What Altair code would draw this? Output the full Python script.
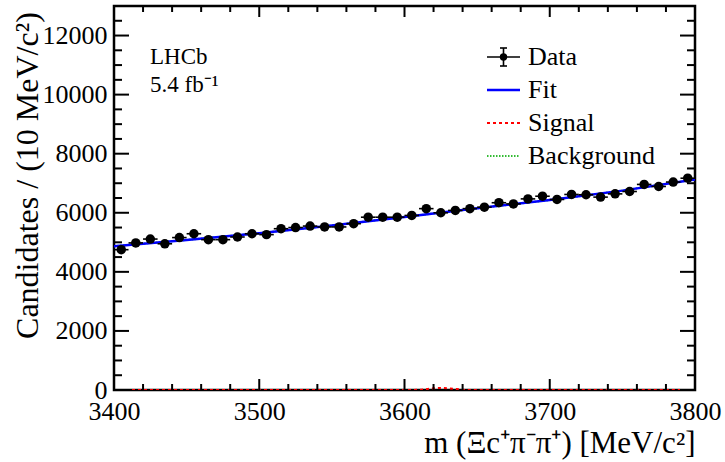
import altair as alt
import pandas as pd

# ---------------- data ----------------
mass = [3405, 3415, 3425, 3435, 3445, 3455, 3465, 3475, 3485, 3495,
        3505, 3515, 3525, 3535, 3545, 3555, 3565, 3575, 3585, 3595,
        3605, 3615, 3625, 3635, 3645, 3655, 3665, 3675, 3685, 3695,
        3705, 3715, 3725, 3735, 3745, 3755, 3765, 3775, 3785, 3795]
counts = [4750, 4980, 5110, 4950, 5160, 5290, 5090, 5090, 5180, 5290,
          5260, 5460, 5500, 5550, 5520, 5520, 5630, 5850, 5850, 5850,
          5910, 6140, 6000, 6080, 6140, 6190, 6340, 6300, 6470, 6560,
          6450, 6620, 6610, 6530, 6640, 6720, 6960, 6890, 7040, 7170]
errors = [69, 71, 71, 70, 72, 73, 71, 71, 72, 73,
          73, 74, 74, 74, 74, 74, 75, 76, 76, 76,
          77, 78, 77, 78, 78, 79, 80, 79, 80, 81,
          80, 81, 81, 81, 81, 82, 83, 83, 84, 85]
bin_half = 5

fit_mass = [3400, 3450, 3500, 3550, 3600, 3650, 3700, 3750, 3800]
fit_vals = [4870, 5080, 5310, 5570, 5860, 6150, 6430, 6750, 7130]
bkg_vals = [4870, 5080, 5310, 5570, 5860, 6150, 6430, 6750, 7130]

sig_mass = [3400, 3605, 3612, 3618, 3624, 3630, 3636, 3642, 3800]
sig_vals = [0, 0, 15, 45, 70, 60, 30, 0, 0]

x_major = [3400, 3500, 3600, 3700, 3800]
x_minor = [v for v in range(3420, 3800, 20) if v % 100 != 0]
y_major = [0, 2000, 4000, 6000, 8000, 10000, 12000]
y_minor = [v for v in range(500, 13000, 500) if v % 2000 != 0]

legend_labels = ["Data", "Fit", "Signal", "Background"]

# ---------------- layout constants ----------------
W, H = 581, 384
FONT = "Liberation Serif"
X_TITLE = "m (Ξc⁺π⁻π⁺) [MeV/c²]"
Y_TITLE = "Candidates / (10 MeV/c²)"

df_data = pd.DataFrame({"m": mass, "n": counts, "e": errors})
df_data["mlo"] = df_data["m"] - bin_half
df_data["mhi"] = df_data["m"] + bin_half
df_data["nlo"] = df_data["n"] - df_data["e"]
df_data["nhi"] = df_data["n"] + df_data["e"]

df_fit = pd.DataFrame({"m": fit_mass, "n": fit_vals})
df_bkg = pd.DataFrame({"m": fit_mass, "n": bkg_vals})
df_sig = pd.DataFrame({"m": sig_mass, "n": sig_vals})

xscale = alt.Scale(domain=[3400, 3800], nice=False, zero=False)
yscale = alt.Scale(domain=[0, 13000], nice=False, zero=True)

xaxis = alt.Axis(values=x_major, format="d", ticks=False, tickSize=0, domain=False, grid=False,
                 labelFont=FONT, labelFontSize=26, labelColor="black", labelPadding=8,
                 labelFlush=False, labelOverlap=False, labelBound=False,
                 titleFont=FONT, titleFontSize=31, titleFontWeight="normal", titleColor="black",
                 titleX=W, titleY=53, titleAlign="right", titleBaseline="middle", titleAnchor="end")
yaxis = alt.Axis(values=y_major, format="d", ticks=False, tickSize=0, domain=False, grid=False,
                 labelFont=FONT, labelFontSize=26, labelColor="black", labelPadding=7,
                 labelFlush=False, labelOverlap=False, labelBound=False,
                 titleFont=FONT, titleFontSize=32, titleFontWeight="normal", titleColor="black",
                 titleX=-87, titleY=169, titleAngle=-90, titleAlign="center", titleBaseline="middle")

X = alt.X("m:Q", scale=xscale, axis=xaxis, title=X_TITLE)
Y = alt.Y("n:Q", scale=yscale, axis=yaxis, title=Y_TITLE)

bkg = alt.Chart(df_bkg).mark_line(color="#33bb33", strokeWidth=2, strokeDash=[1.5, 1.5], clip=True).encode(x=X, y=Y)
sig = alt.Chart(df_sig).mark_line(color="#ff0000", strokeWidth=2, strokeDash=[3, 3], clip=True).encode(x=X, y=Y)
fit = alt.Chart(df_fit).mark_line(color="#0000ff", strokeWidth=2.5, clip=True).encode(x=X, y=Y)

herr = alt.Chart(df_data).mark_rule(color="black", strokeWidth=1.6).encode(
    x=alt.X("mlo:Q", scale=xscale, axis=xaxis, title=X_TITLE), x2="mhi:Q", y=Y)
verr = alt.Chart(df_data).mark_rule(color="black", strokeWidth=1.6).encode(
    x=X, y=alt.Y("nlo:Q", scale=yscale, axis=yaxis, title=Y_TITLE), y2="nhi:Q")
pts = alt.Chart(df_data).mark_circle(color="black", size=90, opacity=1).encode(x=X, y=Y)

# ROOT-style inward ticks on all four sides
def yticks(vals, length):
    d = pd.DataFrame({"n": vals})
    left = alt.Chart(d).mark_rule(color="black", strokeWidth=2).encode(
        y=Y, x=alt.value(0), x2=alt.value(length))
    right = alt.Chart(d).mark_rule(color="black", strokeWidth=2).encode(
        y=Y, x=alt.value(W), x2=alt.value(W - length))
    return [left, right]

def xticks(vals, length):
    d = pd.DataFrame({"m": vals})
    bottom = alt.Chart(d).mark_rule(color="black", strokeWidth=2).encode(
        x=X, y=alt.value(H), y2=alt.value(H - length))
    top = alt.Chart(d).mark_rule(color="black", strokeWidth=2).encode(
        x=X, y=alt.value(0), y2=alt.value(length))
    return [bottom, top]

tick_layers = yticks(y_major, 15) + yticks(y_minor, 8) + xticks(x_major, 11) + xticks(x_minor, 6)

# annotation text
def txt(s, x, y, size=23, align="left"):
    return alt.Chart(pd.DataFrame({"t": [s]})).mark_text(
        font=FONT, fontSize=size, color="black", align=align, baseline="middle").encode(
        x=alt.value(x), y=alt.value(y), text="t:N")

lhcb = txt("LHCb", 36, 51)
lumi = txt("5.4 fb⁻¹", 36, 79)

# legend
lx0, lx1, ltx = 373, 406, 414
ly = [51, 84, 117, 150]
leg = []
for lab, yy in zip(legend_labels, ly):
    leg.append(txt(lab, ltx, yy, size=26))
one = pd.DataFrame({"a": [0]})
cx = (lx0 + lx1) / 2
leg.append(alt.Chart(one).mark_rule(color="black", strokeWidth=1.6).encode(
    x=alt.value(lx0), x2=alt.value(lx1), y=alt.value(ly[0])))
leg.append(alt.Chart(one).mark_rule(color="black", strokeWidth=1.6).encode(
    x=alt.value(cx), y=alt.value(ly[0] - 9), y2=alt.value(ly[0] + 9)))
leg.append(alt.Chart(one).mark_rule(color="black", strokeWidth=1.6).encode(
    x=alt.value(cx - 3.5), x2=alt.value(cx + 3.5), y=alt.value(ly[0] - 9)))
leg.append(alt.Chart(one).mark_rule(color="black", strokeWidth=1.6).encode(
    x=alt.value(cx - 3.5), x2=alt.value(cx + 3.5), y=alt.value(ly[0] + 9)))
leg.append(alt.Chart(one).mark_circle(color="black", size=55, opacity=1).encode(
    x=alt.value(cx), y=alt.value(ly[0])))
leg.append(alt.Chart(one).mark_rule(color="#0000ff", strokeWidth=2.5).encode(
    x=alt.value(lx0), x2=alt.value(lx1), y=alt.value(ly[1])))
leg.append(alt.Chart(one).mark_rule(color="#ff0000", strokeWidth=2, strokeDash=[3, 3]).encode(
    x=alt.value(lx0), x2=alt.value(lx1), y=alt.value(ly[2])))
leg.append(alt.Chart(one).mark_rule(color="#33bb33", strokeWidth=2, strokeDash=[1.5, 1.5]).encode(
    x=alt.value(lx0), x2=alt.value(lx1), y=alt.value(ly[3])))

chart = alt.layer(bkg, sig, fit, herr, verr, pts, *tick_layers, lhcb, lumi, *leg).properties(
    width=W, height=H,
    padding={"left": 114, "top": 6, "right": 30, "bottom": 72},
    autosize=alt.AutoSizeParams(type="none"),
    background="white",
).configure_view(stroke="black", strokeWidth=2.5)

chart.save("out.html", embed_options={"renderer": "svg", "actions": False})
